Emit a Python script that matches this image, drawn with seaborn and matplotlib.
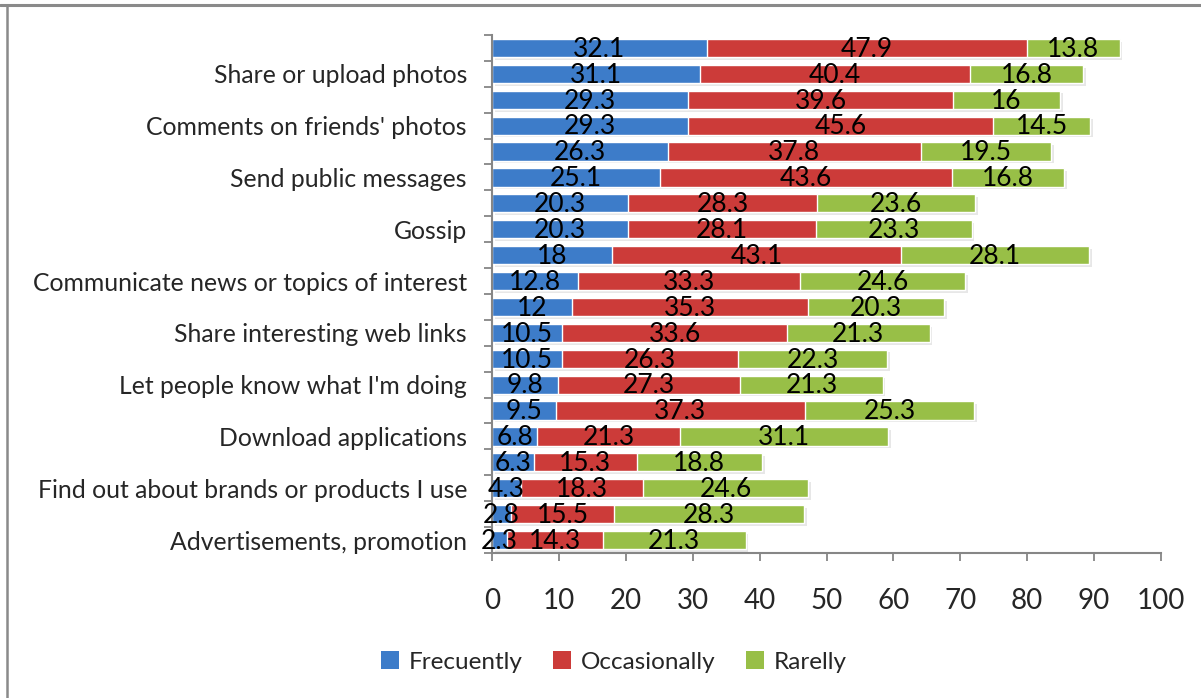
import numpy as np
import pandas as pd
import matplotlib
matplotlib.use("Agg")
import matplotlib.pyplot as plt
import seaborn as sns
from matplotlib.lines import Line2D
from matplotlib.patches import Patch
import matplotlib.patheffects as pe

# ---------------- data ----------------
categories = ["", "Share or upload photos",
              "", "Comments on friends' photos",
              "", "Send public messages",
              "", "Gossip",
              "", "Communicate news or topics of interest",
              "", "Share interesting web links",
              "", "Let people know what I'm doing",
              "", "Download applications",
              "", "Find out about brands or products I use",
              "", "Advertisements, promotion"]
frequently = [32.1, 31.1, 29.3, 29.3, 26.3, 25.1, 20.3, 20.3, 18, 12.8,
              12, 10.5, 10.5, 9.8, 9.5, 6.8, 6.3, 4.3, 2.8, 2.3]
occasionally = [47.9, 40.4, 39.6, 45.6, 37.8, 43.6, 28.3, 28.1, 43.1, 33.3,
                35.3, 33.6, 26.3, 27.3, 37.3, 21.3, 15.3, 18.3, 15.5, 14.3]
rarely = [13.8, 16.8, 16, 14.5, 19.5, 16.8, 23.6, 23.3, 28.1, 24.6,
          20.3, 21.3, 22.3, 21.3, 25.3, 31.1, 18.8, 24.6, 28.3, 21.3]
series_names = ["Frecuently", "Occasionally", "Rarelly"]
x_ticks = [0, 10, 20, 30, 40, 50, 60, 70, 80, 90, 100]
title = "Figure 1. Frequency of use of activities performed on SNSs (%)"

colors = ["#3d7cc9", "#cc3b39", "#98bf47"]
axis_gray = "#868686"
FONT = ["Lato", "DejaVu Sans"]

sns.set_theme(style="white")
plt.rcParams["font.family"] = FONT

keys = [f"r{i:02d}" for i in range(len(categories))]
f = np.array(frequently)
o = np.array(occasionally)
r = np.array(rarely)
df = pd.DataFrame({"key": keys, "c1": f, "c2": f + o, "c3": f + o + r})

fig = plt.figure(figsize=(12.01, 6.98), dpi=100)
ax = fig.add_axes([492 / 1201, 1 - 553 / 698, (1161 - 492) / 1201, (553 - 35) / 698])

bw = 0.7
sns.barplot(data=df, x="c3", y="key", orient="h", color=colors[2], width=bw,
            saturation=1, ax=ax, order=keys)
for p in ax.patches:
    p.set_path_effects([pe.SimplePatchShadow(offset=(2, -2), shadow_rgbFace="#b0b0b0", alpha=0.3),
                        pe.Normal()])
sns.barplot(data=df, x="c2", y="key", orient="h", color=colors[1], width=bw,
            saturation=1, ax=ax, order=keys)
sns.barplot(data=df, x="c1", y="key", orient="h", color=colors[0], width=bw,
            saturation=1, ax=ax, order=keys)

# segment labels
for i in range(len(keys)):
    left = 0.0
    for vals in (frequently, occasionally, rarely):
        v = vals[i]
        ax.text(left + v / 2, i + 0.05, f"{v:g}", ha="center", va="center",
                fontsize=19, color="black")
        left += v

ax.set_xlim(0, 100)
ax.set_ylim(len(keys) - 0.5, -0.5)
ax.set_xlabel("")
ax.set_ylabel("")

# y axis: ticks on boundaries, labels on every other bar
ax.set_yticks(np.arange(-0.5, len(keys), 1.0))
ax.set_yticklabels([])
lab_pos = [i for i, c in enumerate(categories) if c]
ax.set_yticks(lab_pos, minor=True)
ax.set_yticklabels([categories[i] for i in lab_pos], minor=True, fontsize=17.8)
ax.tick_params(axis="y", which="major", direction="out", length=6, width=1.3,
               color=axis_gray, left=True)
ax.tick_params(axis="y", which="minor", length=0, pad=18, left=True)

ax.set_xticks(x_ticks)
ax.set_xticklabels([str(t) for t in x_ticks], fontsize=20)
ax.tick_params(axis="x", direction="out", length=6, width=1.3, color=axis_gray,
               bottom=True, pad=19)

for s in ["top", "right"]:
    ax.spines[s].set_visible(False)
for s in ["left", "bottom"]:
    ax.spines[s].set_color(axis_gray)
    ax.spines[s].set_linewidth(1.5)

# legend
handles = [Patch(facecolor=c, edgecolor="none") for c in colors]
fig.legend(handles, series_names, loc="center", bbox_to_anchor=(614 / 1201, 1 - 662 / 698),
           ncol=3, frameon=False, fontsize=17.5, handlelength=0.75, handleheight=0.75,
           handletextpad=0.4, columnspacing=1.25)

# border of the original chart area
fig.add_artist(Line2D([0, 1], [1 - 5 / 698, 1 - 5 / 698], color="#8a8a8a", lw=2.2,
                      transform=fig.transFigure))
fig.add_artist(Line2D([7 / 1201, 7 / 1201], [0, 1 - 5 / 698], color="#8a8a8a", lw=1.8,
                      transform=fig.transFigure))

# clipped title (only the lower edge is visible, as in the reference)
fig.text(612 / 1201, 1 + 4 / 698, title, ha="center", va="baseline", fontsize=14,
         fontweight="bold", family=["Liberation Serif", "DejaVu Serif"])

fig.savefig("out.png", dpi=100)
